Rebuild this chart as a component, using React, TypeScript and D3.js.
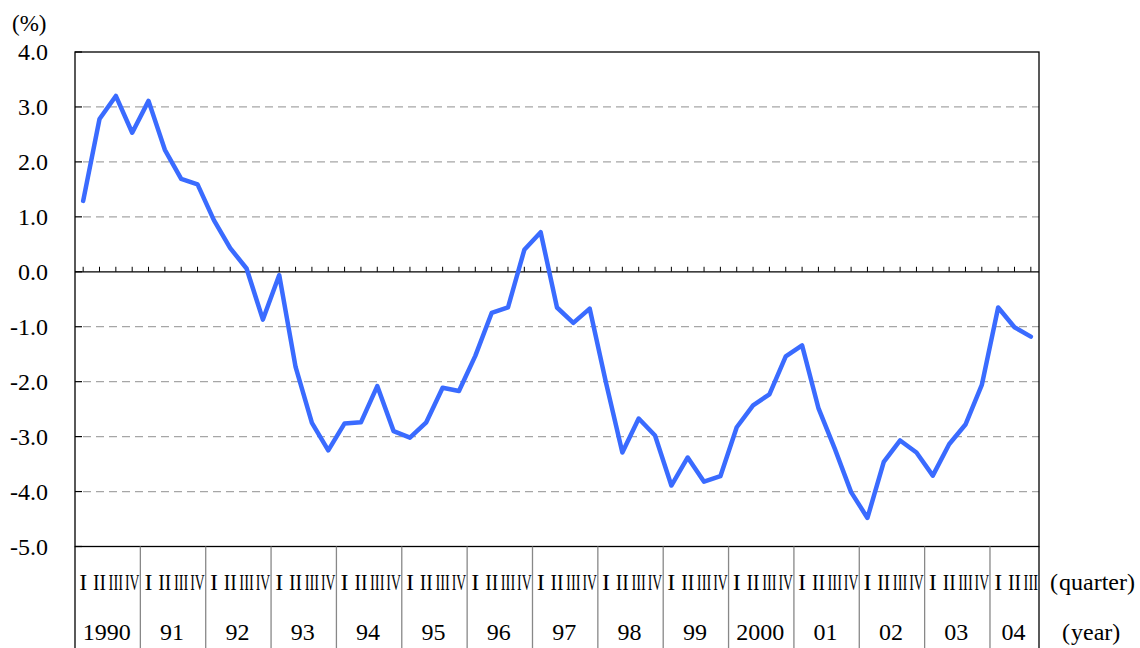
import React from "react";
import * as d3 from "d3";

const years = ["1990", "91", "92", "93", "94", "95", "96", "97", "98", "99", "2000", "01", "02", "03", "04"];
const quarterNames = ["I", "II", "III", "IV"];
const values = [
  1.29, 2.78, 3.2, 2.53, 3.11, 2.22, 1.69, 1.59, 0.94, 0.43, 0.06, -0.87, -0.06, -1.73, -2.75, -3.25,
  -2.76, -2.74, -2.08, -2.9, -3.02, -2.74, -2.11, -2.17, -1.53, -0.75, -0.65, 0.4, 0.72, -0.65, -0.93, -0.67,
  -2.02, -3.29, -2.67, -2.98, -3.89, -3.38, -3.82, -3.72, -2.83, -2.43, -2.23, -1.54, -1.34, -2.48, -3.22, -4.01,
  -4.48, -3.46, -3.07, -3.29, -3.71, -3.14, -2.78, -2.06, -0.65, -1.01, -1.18,
];
const yTicks = [4, 3, 2, 1, 0, -1, -2, -3, -4, -5];

const W = 1140;
const H = 648;
const left = 75;
const right = 1039;
const top = 52;
const bottom = 546.5;
const serif = '"Liberation Serif", "DejaVu Serif", "Noto Serif", "Times New Roman", serif';

export default function App() {
  const n = values.length;
  const x = d3.scaleLinear().domain([0, n]).range([left, right]);
  const y = d3.scaleLinear().domain([-5, 4]).range([bottom, top]);
  const line = d3
    .line<number>()
    .x((_, i) => x(i + 0.5))
    .y((d) => y(d));

  const quarters = values.map((_, i) => ({ i, label: quarterNames[i % 4] }));
  const yearCells = years.map((yr, k) => {
    const s = k * 4;
    const e = Math.min(n, s + 4);
    return { yr, s, e };
  });

  const txt = { fontFamily: serif, fill: "#000" } as React.CSSProperties;

  return (
    <svg
      width={W}
      height={H}
      style={{ position: "fixed", left: 0, top: 0, background: "#fff", fontFamily: serif }}
    >
      <rect x={0} y={0} width={W} height={H} fill="#fff" />
      {yTicks
        .filter((t) => t !== 0 && t !== 4 && t !== -5)
        .map((t) => (
          <line
            key={"g" + t}
            x1={left + 8}
            x2={right}
            y1={y(t)}
            y2={y(t)}
            stroke="#a6a6a6"
            strokeWidth={1.2}
            strokeDasharray="8,5"
          />
        ))}
      {yTicks.map((t) => (
        <line key={"t" + t} x1={left} x2={left + 7} y1={y(t)} y2={y(t)} stroke="#000" strokeWidth={1.2} />
      ))}
      <line x1={left} x2={right} y1={y(0)} y2={y(0)} stroke="#000" strokeWidth={1.3} />
      {quarters.map((q) => (
        <line
          key={"zt" + q.i}
          x1={x(q.i + 0.5)}
          x2={x(q.i + 0.5)}
          y1={y(0)}
          y2={y(0) - 5}
          stroke="#000"
          strokeWidth={1}
        />
      ))}
      <rect x={left} y={top} width={right - left} height={bottom - top} fill="none" stroke="#000" strokeWidth={1.3} />
      {yearCells.map((c) => (
        <line key={"ys" + c.yr} x1={x(c.s)} x2={x(c.s)} y1={bottom} y2={H} stroke={c.s === 0 ? "#000" : "#888"} strokeWidth={1.3} />
      ))}
      <line x1={right} x2={right} y1={bottom} y2={H} stroke="#000" strokeWidth={1.3} />
      {yTicks.map((t) => (
        <text key={"yl" + t} x={48} y={y(t) + 8} textAnchor="end" fontSize={24} style={txt}>
          {t.toFixed(1)}
        </text>
      ))}
      <text x={12} y={31} fontSize={23} style={txt}>
        (%)
      </text>
      <path d={line(values) ?? ""} fill="none" stroke="#3a6bff" strokeWidth={4.5} strokeLinejoin="round" strokeLinecap="round" />
      {quarters.map((q) => {
        const lab = q.label;
        const compress = lab === "III" || lab === "IV" || lab === "II";
        return (
          <text
            key={"ql" + q.i}
            x={x(q.i + 0.5)}
            y={590}
            textAnchor="middle"
            fontSize={24}
            style={txt}
            {...(compress ? { textLength: lab === "II" ? 13 : 14.5, lengthAdjust: "spacingAndGlyphs" } : {})}
          >
            {lab}
          </text>
        );
      })}
      {yearCells.map((c) => (
        <text key={"yr" + c.yr} x={(x(c.s) + x(c.e)) / 2 - 1} y={640} textAnchor="middle" fontSize={24} style={txt}>
          {c.yr}
        </text>
      ))}
      <text x={1050} y={590} fontSize={24} style={txt}>
        <tspan>(</tspan>
        <tspan dx={1}>quarter</tspan>
        <tspan>)</tspan>
      </text>
      <text x={1062} y={640} fontSize={24} style={txt}>
        <tspan>(</tspan>
        <tspan dx={1}>year</tspan>
        <tspan>)</tspan>
      </text>
    </svg>
  );
}
